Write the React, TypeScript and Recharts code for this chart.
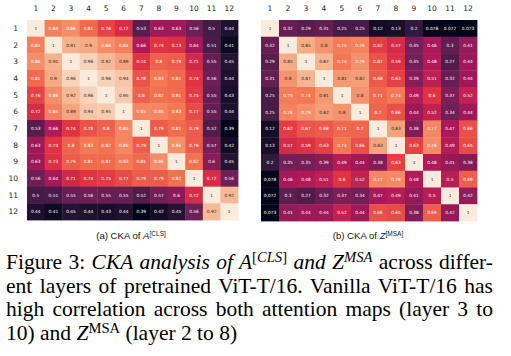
import React from 'react';
import { ScatterChart, Scatter, XAxis, YAxis } from 'recharts';

const layers = [1, 2, 3, 4, 5, 6, 7, 8, 9, 10, 11, 12];

// CKA of A[CLS]
const ckaCls = [
  [1, 0.84, 0.86, 0.81, 0.76, 0.72, 0.53, 0.63, 0.63, 0.56, 0.5, 0.44],
  [0.84, 1, 0.91, 0.9, 0.86, 0.84, 0.66, 0.74, 0.73, 0.64, 0.51, 0.41],
  [0.86, 0.91, 1, 0.96, 0.92, 0.89, 0.74, 0.8, 0.79, 0.71, 0.55, 0.45],
  [0.81, 0.9, 0.96, 1, 0.96, 0.94, 0.78, 0.83, 0.81, 0.74, 0.56, 0.44],
  [0.76, 0.86, 0.92, 0.96, 1, 0.95, 0.8, 0.82, 0.81, 0.75, 0.55, 0.43],
  [0.72, 0.84, 0.89, 0.94, 0.95, 1, 0.85, 0.85, 0.83, 0.77, 0.55, 0.44],
  [0.53, 0.66, 0.74, 0.78, 0.8, 0.85, 1, 0.79, 0.81, 0.79, 0.52, 0.39],
  [0.63, 0.74, 0.8, 0.83, 0.82, 0.85, 0.79, 1, 0.86, 0.79, 0.57, 0.42],
  [0.63, 0.73, 0.79, 0.81, 0.81, 0.83, 0.81, 0.86, 1, 0.82, 0.6, 0.45],
  [0.56, 0.64, 0.71, 0.74, 0.75, 0.77, 0.79, 0.79, 0.82, 1, 0.72, 0.56],
  [0.5, 0.51, 0.55, 0.56, 0.55, 0.55, 0.52, 0.57, 0.6, 0.72, 1, 0.92],
  [0.44, 0.41, 0.45, 0.44, 0.43, 0.44, 0.39, 0.42, 0.45, 0.56, 0.92, 1],
];

// CKA of Z[MSA]
const ckaMsa = [
  [1, 0.32, 0.29, 0.31, 0.25, 0.25, 0.12, 0.13, 0.2, 0.078, 0.072, 0.073],
  [0.32, 1, 0.85, 0.8, 0.75, 0.76, 0.62, 0.57, 0.35, 0.46, 0.3, 0.41],
  [0.29, 0.85, 1, 0.87, 0.74, 0.79, 0.67, 0.59, 0.35, 0.48, 0.27, 0.44],
  [0.31, 0.8, 0.87, 1, 0.81, 0.82, 0.68, 0.63, 0.39, 0.51, 0.32, 0.44],
  [0.25, 0.75, 0.74, 0.81, 1, 0.8, 0.71, 0.74, 0.49, 0.6, 0.37, 0.52],
  [0.25, 0.76, 0.79, 0.82, 0.8, 1, 0.7, 0.66, 0.44, 0.52, 0.34, 0.44],
  [0.12, 0.62, 0.67, 0.68, 0.71, 0.7, 1, 0.83, 0.38, 0.77, 0.47, 0.66],
  [0.13, 0.57, 0.59, 0.63, 0.74, 0.66, 0.83, 1, 0.63, 0.78, 0.49, 0.65],
  [0.2, 0.35, 0.35, 0.39, 0.49, 0.44, 0.38, 0.63, 1, 0.48, 0.41, 0.38],
  [0.078, 0.46, 0.48, 0.51, 0.6, 0.52, 0.77, 0.78, 0.48, 1, 0.5, 0.69],
  [0.072, 0.3, 0.27, 0.32, 0.37, 0.34, 0.47, 0.49, 0.41, 0.5, 1, 0.42],
  [0.073, 0.41, 0.44, 0.44, 0.52, 0.44, 0.66, 0.65, 0.38, 0.69, 0.42, 1],
];

// rocket colormap, sampled
const rocket: [number, string][] = [
  [0, '#03051a'],
  [1 / 7, '#35193e'],
  [2 / 7, '#701f57'],
  [3 / 7, '#ad1759'],
  [4 / 7, '#e13342'],
  [5 / 7, '#f37651'],
  [6 / 7, '#f6b48f'],
  [1, '#faebdd'],
];

const hexToRgb = (h: string) => [1, 3, 5].map((i) => parseInt(h.slice(i, i + 2), 16));

function rocketRgb(t: number) {
  t = Math.max(0, Math.min(1, t));
  for (let i = 1; i < rocket.length; i++) {
    if (t <= rocket[i][0]) {
      const [t0, c0] = rocket[i - 1];
      const [t1, c1] = rocket[i];
      const f = (t - t0) / (t1 - t0);
      const a = hexToRgb(c0);
      const b = hexToRgb(c1);
      return a.map((v, k) => Math.round(v + (b[k] - v) * f));
    }
  }
  return hexToRgb(rocket[rocket.length - 1][1]);
}

function luminance(rgb: number[]) {
  const lin = rgb.map((v) => {
    const c = v / 255;
    return c <= 0.03928 ? c / 12.92 : Math.pow((c + 0.055) / 1.055, 2.4);
  });
  return 0.2126 * lin[0] + 0.7152 * lin[1] + 0.0722 * lin[2];
}

const fmt = (v: number) => Number(v.toPrecision(2)).toString();

interface HeatmapProps {
  matrix: number[][];
  width: number;
  height: number;
  margin: { top: number; right: number; bottom: number; left: number };
  yAxisWidth: number;
  showRows: boolean;
}

function Heatmap({ matrix, width, height, margin, yAxisWidth, showRows }: HeatmapProps) {
  const vmin = Math.min(...matrix.flat());
  const vmax = Math.max(...matrix.flat());
  const points = matrix.flatMap((row, r) => row.map((v, c) => ({ x: c + 1, y: r + 1, v })));
  const xAxisHeight = 20;
  const cw = (width - margin.left - margin.right - (showRows ? yAxisWidth : 0)) / 12;
  const ch = (height - margin.top - margin.bottom - xAxisHeight) / 12;

  const renderCell = (props: any) => {
    const { cx, cy, payload } = props;
    const rgb = rocketRgb((payload.v - vmin) / (vmax - vmin));
    const textColor = luminance(rgb) > 0.408 ? '#262626' : '#ffffff';
    return (
      <g>
        <rect x={cx - cw / 2} y={cy - ch / 2} width={cw + 0.4} height={ch + 0.4} fill={`rgb(${rgb.join(',')})`} />
        <text x={cx} y={cy} textAnchor="middle" dominantBaseline="central" fontSize={4.3} fill={textColor} fontFamily="DejaVu Sans">
          {fmt(payload.v)}
        </text>
      </g>
    );
  };

  return (
    <ScatterChart width={width} height={height} margin={margin}>
      <XAxis
        type="number"
        dataKey="x"
        orientation="top"
        domain={[0.5, 12.5]}
        ticks={layers}
        interval={0}
        height={xAxisHeight}
        axisLine={false}
        tickLine={false}
        tickMargin={3}
        tick={{ fontSize: 7.5, fill: '#262626', fontFamily: 'DejaVu Sans' }}
      />
      <YAxis
        type="number"
        dataKey="y"
        reversed
        domain={[0.5, 12.5]}
        ticks={layers}
        interval={0}
        width={yAxisWidth}
        hide={!showRows}
        axisLine={false}
        tickLine={false}
        tickMargin={3}
        tick={{ fontSize: 7.5, fill: '#262626', fontFamily: 'DejaVu Sans' }}
      />
      <Scatter data={points} shape={renderCell} isAnimationActive={false} />
    </ScatterChart>
  );
}

const sup: React.CSSProperties = {
  fontSize: '0.68em',
  verticalAlign: 'baseline',
  position: 'relative',
  top: '-0.5em',
};

const lineStyle: React.CSSProperties = {
  textAlign: 'justify',
  textAlignLast: 'justify',
  whiteSpace: 'nowrap',
  height: 23.7,
  lineHeight: '23.7px',
};

const subCaption: React.CSSProperties = {
  position: 'absolute',
  top: 230,
  width: 200,
  textAlign: 'center',
  fontFamily: 'Liberation Sans',
  fontSize: 9.6,
  lineHeight: '11px',
  color: '#111',
};

export default function App() {
  return (
    <div style={{ position: 'absolute', left: 0, top: 0, width: 511, height: 356, background: '#fff', overflow: 'hidden' }}>
      <div style={{ position: 'absolute', left: 0, top: 0 }}>
        <Heatmap matrix={ckaCls} width={245} height={225} margin={{ top: 0, right: 7, bottom: 5, left: 0 }} yAxisWidth={27} showRows />
      </div>
      <div style={{ position: 'absolute', left: 254, top: 0 }}>
        <Heatmap matrix={ckaMsa} width={230} height={225} margin={{ top: 0, right: 7, bottom: 4, left: 7 }} yAxisWidth={0} showRows={false} />
      </div>

      <div style={{ ...subCaption, left: 31 }}>
        (a) CKA of <i>A</i>
        <span style={sup}>[CLS]</span>
      </div>
      <div style={{ ...subCaption, left: 268 }}>
        (b) CKA of <i>Z</i>
        <span style={sup}>[MSA]</span>
      </div>

      <div style={{ position: 'absolute', left: 6, top: 251, width: 487, fontFamily: 'Liberation Serif', fontSize: 21.5, color: '#000' }}>
        <div style={lineStyle}>
          Figure 3: <i>CKA analysis of A</i>
          <span style={sup}>
            [<i>CLS</i>]
          </span>{' '}
          <i>and Z</i>
          <span style={sup}>
            <i>MSA</i>
          </span>{' '}
          across differ-
        </div>
        <div style={lineStyle}>ent layers of pretrained ViT-T/16. Vanilla ViT-T/16 has</div>
        <div style={lineStyle}>high correlation across both attention maps (layer 3 to</div>
        <div style={{ ...lineStyle, textAlign: 'left', textAlignLast: 'left' }}>
          10) and <i>Z</i>
          <span style={sup}>MSA</span> (layer 2 to 8)
        </div>
      </div>
    </div>
  );
}
